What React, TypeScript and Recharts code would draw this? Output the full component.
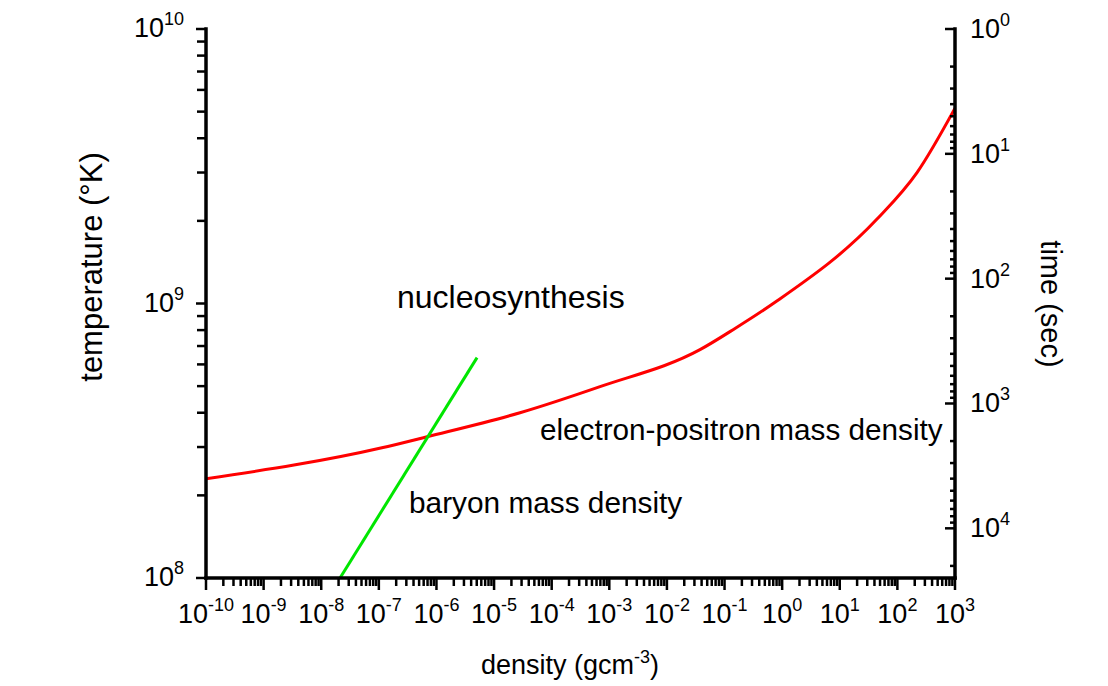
import React from 'react'
import { LineChart, Line, XAxis, YAxis, Customized } from 'recharts'

// decades shown on each axis (exponents of ten)
const densityDecades = [-10, -9, -8, -7, -6, -5, -4, -3, -2, -1, 0, 1, 2, 3]
const temperatureDecades = [8, 9, 10]
const timeDecades = [0, 1, 2, 3, 4]

// electron-positron mass density: density (g/cm3) vs temperature (K)
const electronPositron = [
  { rho: 1e-10, t: 2.3e8 },
  { rho: 1.13e-7, t: 2.98e8 },
  { rho: 6.86e-7, t: 3.27e8 },
  { rho: 2.82e-5, t: 4.0e8 },
  { rho: 6.9e-4, t: 4.98e8 },
  { rho: 3.75e-2, t: 6.79e8 },
  { rho: 0.152, t: 8.11e8 },
  { rho: 0.752, t: 1.01e9 },
  { rho: 44.3, t: 2.03e9 },
  { rho: 219, t: 3.0e9 },
  { rho: 1000, t: 5.15e9 },
]

// baryon mass density
const baryon = [
  { rho: 2.12e-8, t: 1e8 },
  { rho: 5.06e-6, t: 6.35e8 },
]

const FONT = '"Liberation Sans", Arial, Helvetica, sans-serif'
const TIME_MAX = 25000

const logTicks = (decades: number[], max: number) => {
  const out: number[] = []
  decades.forEach((d) => {
    const base = Number(`1e${d}`)
    out.push(base)
    for (let m = 2; m <= 9; m++) {
      const v = m * base
      if (v <= max * 1.0001) out.push(v)
    }
  })
  return out
}

const densityTicks = logTicks(densityDecades, 1e3)
const temperatureTicks = logTicks(temperatureDecades, 1e10)
const timeTicks = logTicks(timeDecades, TIME_MAX)

const exponentOf = (v: number) => Math.round(Math.log10(v))
const isMajor = (v: number) => Math.abs(Math.log10(v) - exponentOf(v)) < 1e-9

const TICK_W = 2.5

const DensityTick = (props: any) => {
  const { x, y, payload } = props
  const v = payload.value
  const major = isMajor(v)
  return (
    <g>
      <line x1={x} x2={x} y1={y} y2={y + (major ? 12 : 8)} stroke="#000" strokeWidth={TICK_W} />
      {major && (
        <text x={x} y={y + 45} textAnchor="middle" fontFamily={FONT} fontSize={27} fill="#000">
          10<tspan fontSize={18} dy={-12}>{exponentOf(v)}</tspan>
        </text>
      )}
    </g>
  )
}

const TemperatureTick = (props: any) => {
  const { x, y, payload } = props
  const v = payload.value
  const major = isMajor(v)
  return (
    <g>
      <line x1={x - (major ? 10 : 9)} x2={x} y1={y} y2={y} stroke="#000" strokeWidth={TICK_W} />
      {major && (
        <text x={x - 22} y={y + 8} textAnchor="end" fontFamily={FONT} fontSize={27} fill="#000">
          10<tspan fontSize={18} dy={-12}>{exponentOf(v)}</tspan>
        </text>
      )}
    </g>
  )
}

const TimeTick = (props: any) => {
  const { x, y, payload } = props
  const v = payload.value
  const major = isMajor(v)
  return (
    <g>
      <line x1={x - (major ? 10 : 5)} x2={x} y1={y} y2={y} stroke="#000" strokeWidth={TICK_W} />
      {major && (
        <text x={x + 15} y={y + 9} textAnchor="start" fontFamily={FONT} fontSize={27} fill="#000">
          10<tspan fontSize={18} dy={-12}>{exponentOf(v)}</tspan>
        </text>
      )}
    </g>
  )
}

const Annotations = () => (
  <g fontFamily={FONT} fill="#000">
    <text x={397} y={308} fontSize={32}>nucleosynthesis</text>
    <text x={540} y={440} fontSize={29.7}>electron-positron mass density</text>
    <text x={409} y={513} fontSize={29.8}>baryon mass density</text>
    <text transform="translate(102,267) rotate(-90)" textAnchor="middle" fontSize={31}>
      temperature (°K)
    </text>
    <text transform="translate(1041,304) rotate(90)" textAnchor="middle" fontSize={29}>
      time (sec)
    </text>
    <text x={570} y={674} textAnchor="middle" fontSize={27}>
      density (gcm<tspan dy={-11} fontSize={18}>-3</tspan>
      <tspan dy={11}>)</tspan>
    </text>
  </g>
)

const axisStroke = { stroke: '#000', strokeWidth: 3.5, strokeLinecap: 'square' as const }

export default function App() {
  return (
    <div style={{ position: 'absolute', left: 0, top: 0, background: '#fff' }}>
      <LineChart
        width={1108}
        height={686}
        margin={{ top: 29, right: 53, bottom: 48, left: 86 }}
      >
        <XAxis
          xAxisId="density"
          type="number"
          dataKey="rho"
          scale="log"
          domain={[1e-10, 1e3]}
          allowDataOverflow
          ticks={densityTicks}
          interval={0}
          tick={<DensityTick />}
          tickLine={false}
          tickSize={0}
          tickMargin={0}
          axisLine={axisStroke}
          height={60}
        />
        <YAxis
          yAxisId="temp"
          type="number"
          scale="log"
          domain={[1e8, 1e10]}
          allowDataOverflow
          ticks={temperatureTicks}
          interval={0}
          tick={<TemperatureTick />}
          tickLine={false}
          tickSize={0}
          tickMargin={0}
          axisLine={axisStroke}
          width={120}
        />
        <YAxis
          yAxisId="time"
          orientation="right"
          type="number"
          scale="log"
          reversed
          domain={[1, TIME_MAX]}
          allowDataOverflow
          ticks={timeTicks}
          interval={0}
          tick={<TimeTick />}
          tickLine={false}
          tickSize={0}
          tickMargin={0}
          axisLine={axisStroke}
          width={100}
        />
        <Line
          xAxisId="density"
          yAxisId="temp"
          data={electronPositron}
          dataKey="t"
          type="monotone"
          stroke="#ff0000"
          strokeWidth={3}
          strokeLinejoin="round"
          dot={false}
          activeDot={false}
          isAnimationActive={false}
        />
        <Line
          xAxisId="density"
          yAxisId="temp"
          data={baryon}
          dataKey="t"
          type="linear"
          stroke="#00e600"
          strokeWidth={3}
          dot={false}
          activeDot={false}
          isAnimationActive={false}
        />
        <Customized component={Annotations} />
      </LineChart>
    </div>
  )
}
